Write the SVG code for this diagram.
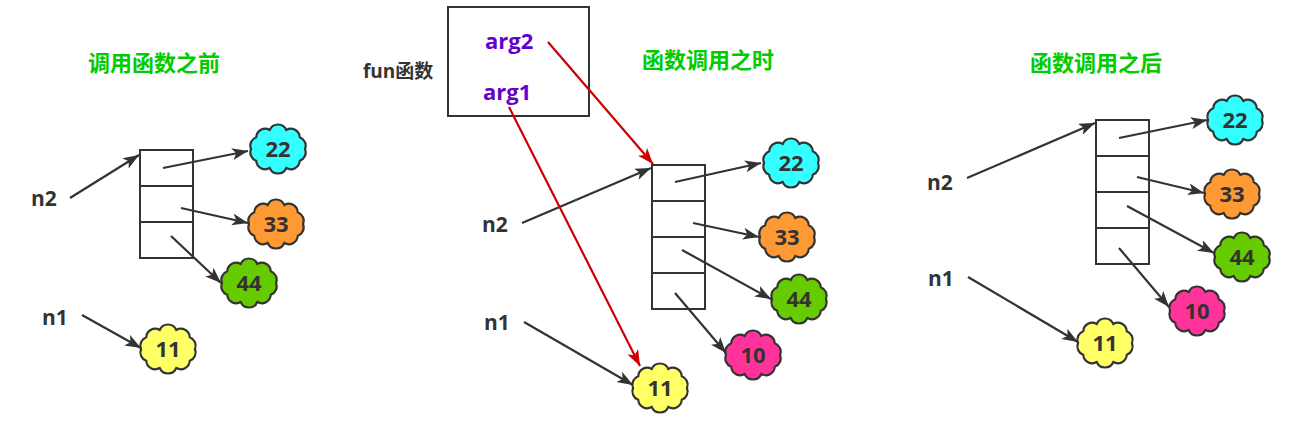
<svg xmlns="http://www.w3.org/2000/svg" xmlns:xlink="http://www.w3.org/1999/xlink" width="1298" height="429" viewBox="0 0 1298 429">
<style>
.title{font-family:"Noto Sans CJK SC","Open Sans",sans-serif;font-weight:bold;font-size:22px;fill:#00CC00}
.lbl{font-family:"Open Sans","Noto Sans CJK SC",sans-serif;font-weight:bold;font-size:21px;fill:#333333}
.fun{font-family:"Open Sans","Noto Sans CJK SC",sans-serif;font-weight:bold;font-size:19px;fill:#333333}
.arg{font-family:"Open Sans",sans-serif;font-weight:bold;font-size:22px;fill:#6600CC}
.num{font-family:"Open Sans",sans-serif;font-weight:bold;font-size:22px;fill:#333333;text-anchor:middle}
.cell{fill:#ffffff;stroke:#333333;stroke-width:2}
.cloud{stroke:#333333;stroke-width:2.2}
.ar{stroke:#333333;stroke-width:2.2;fill:none;marker-end:url(#ah)}
.ra{stroke:#CC0000;stroke-width:2.2;fill:none;marker-end:url(#rh)}
</style>
<defs>
<marker id="ah" viewBox="0 0 16 12" refX="16" refY="6" markerWidth="16" markerHeight="12" markerUnits="userSpaceOnUse" orient="auto">
<path d="M0,0 L16,6 L0,12 L4,6 Z" fill="#333333"/>
</marker>
<marker id="rh" viewBox="0 0 16 12" refX="16" refY="6" markerWidth="16" markerHeight="12" markerUnits="userSpaceOnUse" orient="auto">
<path d="M0,0 L16,6 L0,12 L4,6 Z" fill="#CC0000"/>
</marker>
<path id="cl" d="M27,0 A9,9 0 0 1 21.8,11.8 A9,9 0 0 1 8.3,19 A9,9 0 0 1 -8.3,19 A9,9 0 0 1 -21.8,11.8 A9,9 0 0 1 -27,0 A9,9 0 0 1 -21.8,-11.8 A9,9 0 0 1 -8.3,-19 A9,9 0 0 1 8.3,-19 A9,9 0 0 1 21.8,-11.8 A9,9 0 0 1 27,0 Z"/>
</defs>
<rect width="1298" height="429" fill="#ffffff"/>

<!-- Titles -->
<text id="title-before" class="title" x="88" y="71">调用函数之前</text>
<text id="title-during" class="title" x="642" y="68">函数调用之时</text>
<text id="title-after" class="title" x="1030" y="71">函数调用之后</text>

<!-- Left section -->
<g id="left-list">
<rect class="cell" x="140" y="150" width="53" height="36"/>
<rect class="cell" x="140" y="186" width="53" height="36"/>
<rect class="cell" x="140" y="222" width="53" height="36"/>
</g>
<g id="left-n2"><text class="lbl" x="31" y="206">n2</text></g>
<g id="left-n1"><text class="lbl" x="42" y="325">n1</text></g>
<g id="left-22"><use xlink:href="#cl" class="cloud" fill="#33FFFF" transform="translate(278,149)"/><text class="num" x="278" y="157">22</text></g>
<g id="left-33"><use xlink:href="#cl" class="cloud" fill="#FF9933" transform="translate(276,224)"/><text class="num" x="276" y="232">33</text></g>
<g id="left-44"><use xlink:href="#cl" class="cloud" fill="#66CC00" transform="translate(249,283)"/><text class="num" x="249" y="291">44</text></g>
<g id="left-11"><use xlink:href="#cl" class="cloud" fill="#FFFF66" transform="translate(168,349)"/><text class="num" x="168" y="357">11</text></g>

<!-- Middle section -->
<g id="fun-box">
<rect x="448" y="7" width="141" height="109" fill="#ffffff" stroke="#333333" stroke-width="2"/>
<text class="arg" x="485" y="49">arg2</text>
<text class="arg" x="483" y="100">arg1</text>
</g>
<g id="fun-label"><text class="fun" x="363" y="78">fun函数</text></g>
<g id="mid-list">
<rect class="cell" x="652" y="165" width="53" height="36"/>
<rect class="cell" x="652" y="201" width="53" height="36"/>
<rect class="cell" x="652" y="237" width="53" height="36"/>
<rect class="cell" x="652" y="273" width="53" height="36"/>
</g>
<g id="mid-n2"><text class="lbl" x="482" y="232">n2</text></g>
<g id="mid-n1"><text class="lbl" x="484" y="330">n1</text></g>
<g id="mid-22"><use xlink:href="#cl" class="cloud" fill="#33FFFF" transform="translate(791,163)"/><text class="num" x="791" y="171">22</text></g>
<g id="mid-33"><use xlink:href="#cl" class="cloud" fill="#FF9933" transform="translate(787,237)"/><text class="num" x="787" y="245">33</text></g>
<g id="mid-44"><use xlink:href="#cl" class="cloud" fill="#66CC00" transform="translate(799,299)"/><text class="num" x="799" y="307">44</text></g>
<g id="mid-10"><use xlink:href="#cl" class="cloud" fill="#FF3399" transform="translate(753,355)"/><text class="num" x="753" y="363">10</text></g>
<g id="mid-11"><use xlink:href="#cl" class="cloud" fill="#FFFF66" transform="translate(660,388)"/><text class="num" x="660" y="396">11</text></g>

<!-- Right section -->
<g id="right-list">
<rect class="cell" x="1096" y="120" width="53" height="36"/>
<rect class="cell" x="1096" y="156" width="53" height="36"/>
<rect class="cell" x="1096" y="192" width="53" height="36"/>
<rect class="cell" x="1096" y="228" width="53" height="36"/>
</g>
<g id="right-n2"><text class="lbl" x="927" y="190">n2</text></g>
<g id="right-n1"><text class="lbl" x="928" y="286">n1</text></g>
<g id="right-22"><use xlink:href="#cl" class="cloud" fill="#33FFFF" transform="translate(1235,120)"/><text class="num" x="1235" y="128">22</text></g>
<g id="right-33"><use xlink:href="#cl" class="cloud" fill="#FF9933" transform="translate(1232,194)"/><text class="num" x="1232" y="202">33</text></g>
<g id="right-44"><use xlink:href="#cl" class="cloud" fill="#66CC00" transform="translate(1242,257)"/><text class="num" x="1242" y="265">44</text></g>
<g id="right-10"><use xlink:href="#cl" class="cloud" fill="#FF3399" transform="translate(1197,311)"/><text class="num" x="1197" y="319">10</text></g>
<g id="right-11"><use xlink:href="#cl" class="cloud" fill="#FFFF66" transform="translate(1105,343)"/><text class="num" x="1105" y="351">11</text></g>

<!-- Connectors -->
<g id="connectors">
<line class="ar" x1="70" y1="198" x2="139" y2="155"/>
<line class="ar" x1="163" y1="168" x2="248" y2="151"/>
<line class="ar" x1="181" y1="208" x2="248" y2="223"/>
<line class="ar" x1="171" y1="236" x2="221" y2="283"/>
<line class="ar" x1="82" y1="315" x2="141" y2="348"/>

<line class="ar" x1="522" y1="223" x2="651" y2="168"/>
<line class="ar" x1="675" y1="182" x2="761" y2="163"/>
<line class="ar" x1="693" y1="223" x2="759" y2="237"/>
<line class="ar" x1="682" y1="250" x2="771" y2="299"/>
<line class="ar" x1="675" y1="293" x2="726" y2="353"/>
<line class="ar" x1="524" y1="322" x2="633" y2="385"/>
<line class="ra" x1="548" y1="42" x2="653" y2="164"/>
<line class="ra" x1="509" y1="107" x2="640" y2="366"/>

<line class="ar" x1="967" y1="178" x2="1095" y2="123"/>
<line class="ar" x1="1119" y1="138" x2="1207" y2="120"/>
<line class="ar" x1="1137" y1="177" x2="1204" y2="193"/>
<line class="ar" x1="1127" y1="206" x2="1214" y2="253"/>
<line class="ar" x1="1119" y1="248" x2="1169" y2="307"/>
<line class="ar" x1="968" y1="277" x2="1078" y2="342"/>
</g>
</svg>
